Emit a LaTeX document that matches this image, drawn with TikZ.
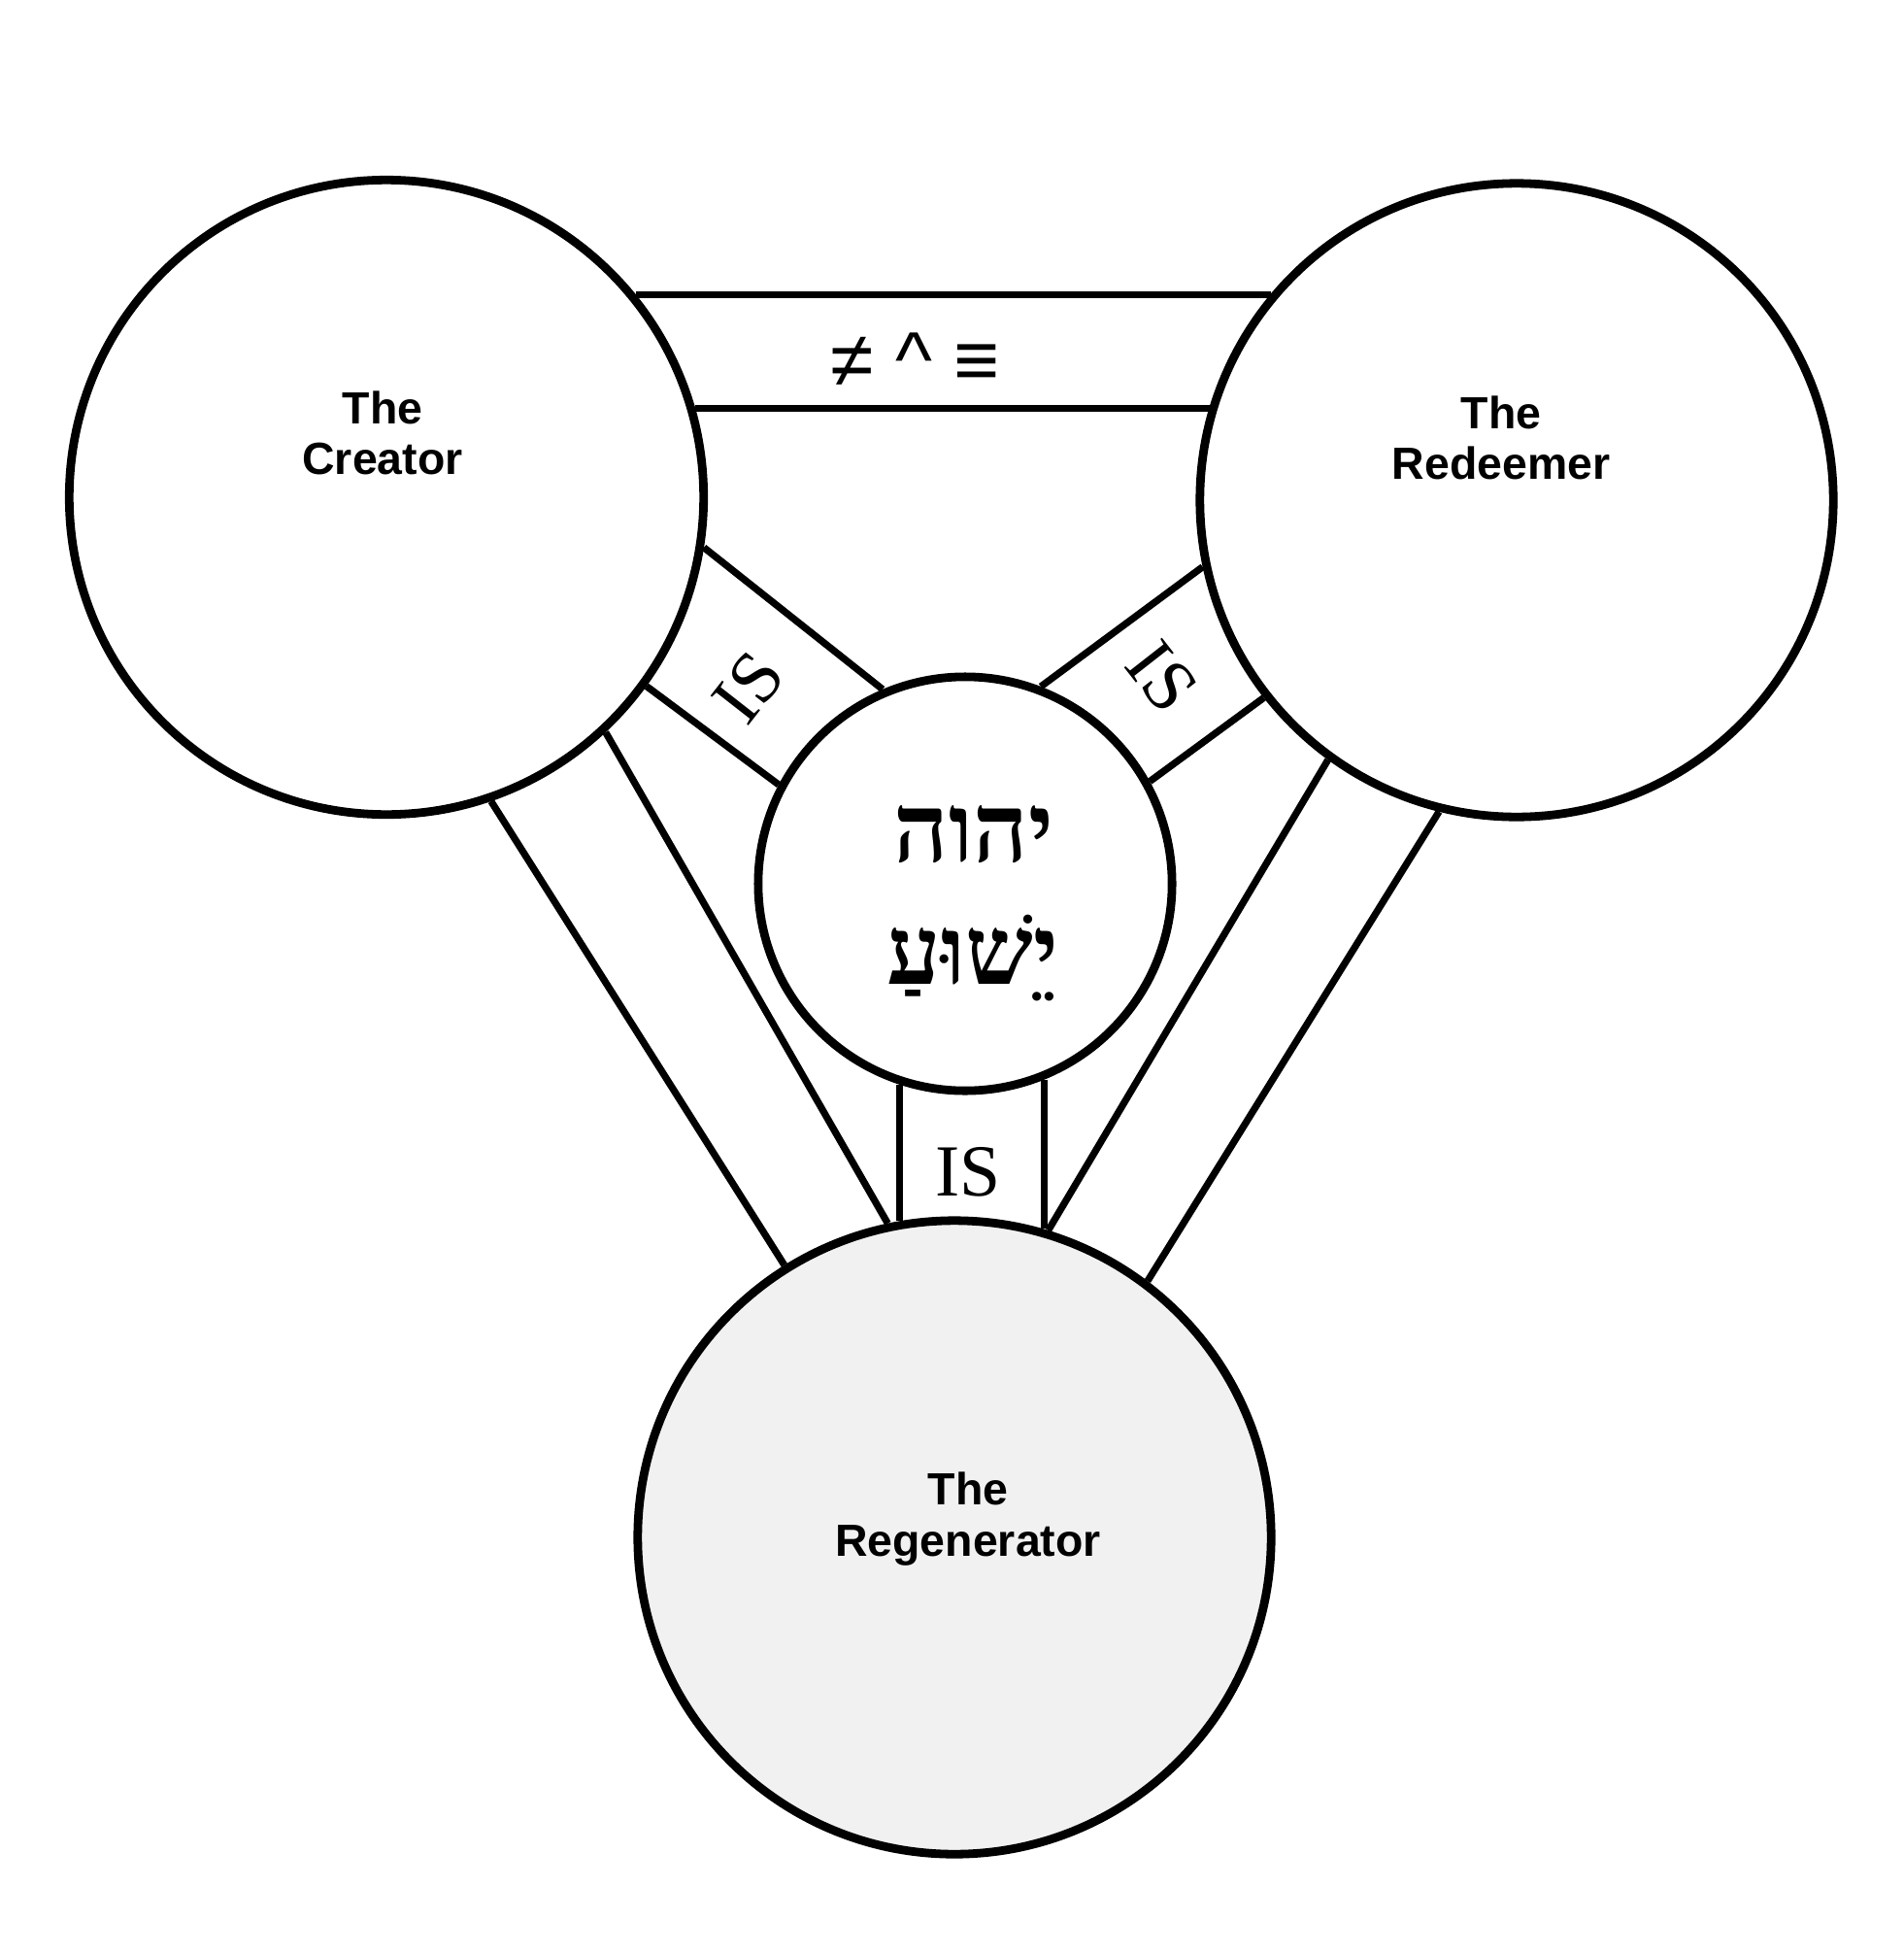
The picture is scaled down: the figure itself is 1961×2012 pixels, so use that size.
\documentclass[tikz,border=0pt]{standalone}
\usepackage{fontspec}
\setmainfont{Liberation Serif}
\newfontfamily\labelfont{Liberation Sans}
\newfontfamily\hebfont[Script=Hebrew]{Liberation Serif}
\TeXXeTstate=1
\definecolor{regfill}{HTML}{F1F1F1}
\begin{document}
\begin{tikzpicture}[x=0.01cm,y=-0.01cm,
  ring/.style={circle,draw,line width=2.5pt,fill=white,inner sep=0pt},
  band/.style={line width=2.05pt},
  lbl/.style={font=\labelfont\bfseries\fontsize{13.2pt}{15pt}\selectfont,align=center},
  islbl/.style={font=\fontsize{21.5pt}{24pt}\selectfont,inner sep=0pt},
  heb/.style={font=\hebfont\bfseries\fontsize{28pt}{32pt}\selectfont,anchor=base,inner sep=0pt}]
\useasboundingbox (0,0) rectangle (1961,2012);
% circles
\node[ring,minimum size=6.53cm] (cr) at (398,512) {};
\node[ring,minimum size=6.52cm] (rd) at (1562,515) {};
\node[ring,minimum size=6.52cm,fill=regfill] (rg) at (983,1583) {};
\node[ring,minimum size=4.26cm] (ct) at (994,910) {};
% top band
\draw[band] (cr.39.46) -- (cr.39.46 -| rd.140.5);
\draw[band] (cr.16.53) -- (cr.16.53 -| rd.163.5);
% creator - centre
\draw[band] (cr.-9.4) -- (ct.113.75);
\draw[band] (cr.-36.2) -- (ct.152.8);
% redeemer - centre
\draw[band] (rd.-168.8) -- (ct.69.9);
\draw[band] (rd.-142.2) -- (ct.29.8);
% centre - regenerator
\draw[band] (ct.-108.8) -- (ct.-108.8 |- rg.100.0);
\draw[band] (ct.-68.9) -- (ct.-68.9 |- rg.74.2);
% creator - regenerator
\draw[band] (cr.-47.1) -- (rg.102.2);
\draw[band] (cr.-71.6) -- (rg.122.1);
% redeemer - regenerator
\draw[band] (rd.-126.7) -- (rg.73.1);
\draw[band] (rd.-104.2) -- (rg.53.8);
% labels
\node[lbl] (tcr) at (394,446) {The\\Creator};
\node[lbl] (trd) at (1546,451) {The\\Redeemer};
\node[lbl] (trg) at (997,1564) {The\\Regenerator};
\node[font=\labelfont\fontsize{23pt}{26pt}\selectfont,anchor=base,inner sep=0pt] (rel) at (943,398) {≠ \textasciicircum{} ≡};
\node[heb] (heb1) at (1003,887) {\beginR יהוה\endR};
\node[heb] (heb2) at (1002,1013) {\beginR יֵשׁוּעַ\endR};
\node[islbl,rotate=52] (is1) at (771,708) {IS};
\node[islbl,rotate=-52] (is2) at (1197,697) {IS};
\node[islbl] (is3) at (997,1207) {IS};
\end{tikzpicture}
\end{document}
